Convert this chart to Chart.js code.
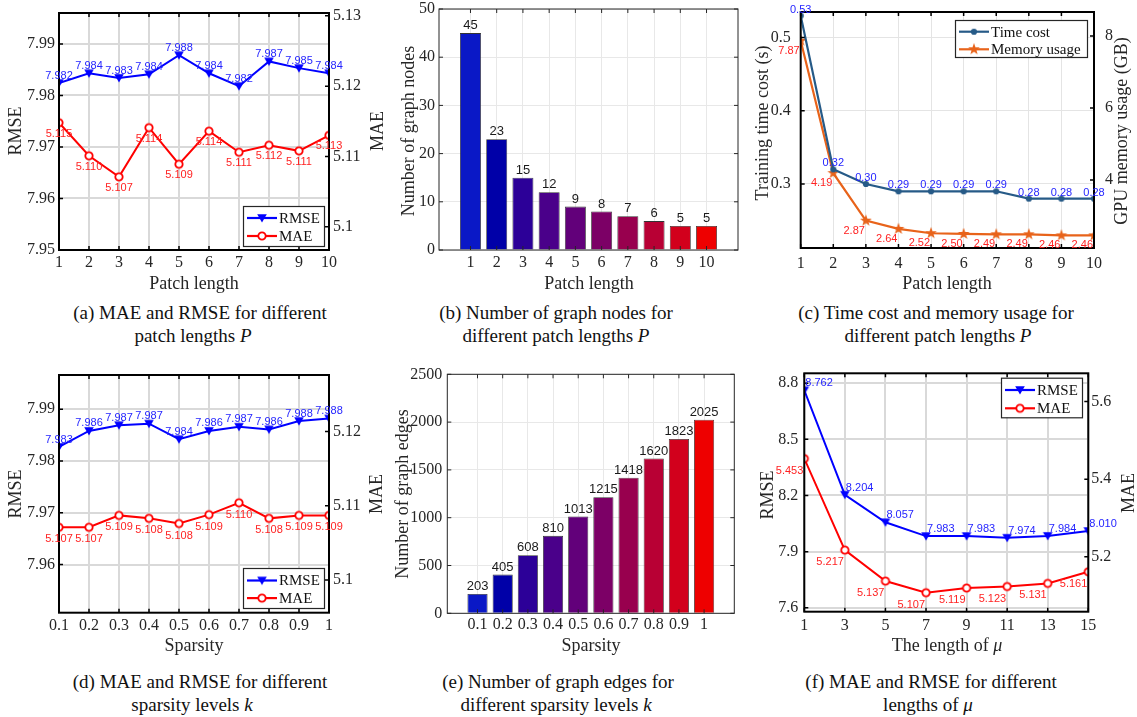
<!DOCTYPE html>
<html>
<head>
<meta charset="utf-8">
<script src="https://cdn.jsdelivr.net/npm/chart.js@4.4.1/dist/chart.umd.min.js"></script>
<style>
  html, body { margin: 0; padding: 0; background: #fff; }
  body { position: relative; width: 1137px; height: 717px; overflow: hidden; font-family: "Liberation Serif", "Times New Roman", serif; }
  canvas { position: absolute; }
  .t { position: absolute; white-space: nowrap; color: #262626; font-size: 18px; line-height: 1; transform: translate(-50%, -50%); z-index: 2; }
  .t.v { transform: translate(-50%, -50%) rotate(-90deg); }
  .cap { position: absolute; white-space: nowrap; color: #111; font-size: 19px; line-height: 1; transform: translate(-50%, -50%); z-index: 2; }
</style>
</head>
<body>
<canvas id="cA" width="380" height="300" style="left:0px;top:0px"></canvas>
<canvas id="cB" width="370" height="300" style="left:380px;top:0px"></canvas>
<canvas id="cC" width="387" height="300" style="left:750px;top:0px"></canvas>
<canvas id="cD" width="380" height="320" style="left:0px;top:350px"></canvas>
<canvas id="cE" width="370" height="320" style="left:380px;top:350px"></canvas>
<canvas id="cF" width="387" height="320" style="left:750px;top:350px"></canvas>

<!-- axis titles -->
<div class="t v" style="left:15px;top:131px">RMSE</div>
<div class="t v" style="left:377px;top:131px">MAE</div>
<div class="t" style="left:194px;top:283px">Patch length</div>

<div class="t v" style="left:408px;top:131px">Number of graph nodes</div>
<div class="t" style="left:589px;top:283px">Patch length</div>

<div class="t v" style="left:762px;top:123px">Training time cost (s)</div>
<div class="t v" style="left:1121px;top:131px">GPU memory usage (GB)</div>
<div class="t" style="left:947px;top:283px">Patch length</div>

<div class="t v" style="left:15px;top:494px">RMSE</div>
<div class="t v" style="left:376px;top:494px">MAE</div>
<div class="t" style="left:194px;top:645px">Sparsity</div>

<div class="t v" style="left:402px;top:494px">Number of graph edges</div>
<div class="t" style="left:591px;top:645px">Sparsity</div>

<div class="t v" style="left:767px;top:495px">RMSE</div>
<div class="t v" style="left:1128px;top:493px">MAE</div>
<div class="t" style="left:947px;top:645px">The length of <i>μ</i></div>

<!-- sub-captions -->
<div class="cap" style="left:200px;top:312px">(a) MAE and RMSE for different</div>
<div class="cap" style="left:193px;top:335px">patch lengths <i>P</i></div>
<div class="cap" style="left:556px;top:312px">(b) Number of graph nodes for</div>
<div class="cap" style="left:556px;top:335px">different patch lengths <i>P</i></div>
<div class="cap" style="left:936px;top:312px">(c) Time cost and memory usage for</div>
<div class="cap" style="left:938px;top:335px">different patch lengths <i>P</i></div>
<div class="cap" style="left:200px;top:681px">(d) MAE and RMSE for different</div>
<div class="cap" style="left:192px;top:704px">sparsity levels <i>k</i></div>
<div class="cap" style="left:558px;top:681px">(e) Number of graph edges for</div>
<div class="cap" style="left:556px;top:704px">different sparsity levels <i>k</i></div>
<div class="cap" style="left:931px;top:681px">(f) MAE and RMSE for different</div>
<div class="cap" style="left:928px;top:704px">lengths of <i>μ</i></div>

<script>
// ---- data ----
const patchLengths = [1, 2, 3, 4, 5, 6, 7, 8, 9, 10];
const rmsePatch = [7.9824, 7.9843, 7.9834, 7.9841, 7.9878, 7.9843, 7.9818, 7.9866, 7.9853, 7.9843];
const maePatch = [5.1148, 5.1101, 5.1071, 5.1141, 5.1089, 5.1136, 5.1106, 5.1116, 5.1108, 5.1130];
const graphNodes = [45, 23, 15, 12, 9, 8, 7, 6, 5, 5];
const timeCost = [0.53, 0.32, 0.30, 0.29, 0.29, 0.29, 0.29, 0.28, 0.28, 0.28];
const memoryUsage = [7.87, 4.19, 2.87, 2.64, 2.52, 2.50, 2.49, 2.49, 2.46, 2.46];

const sparsity = [0.1, 0.2, 0.3, 0.4, 0.5, 0.6, 0.7, 0.8, 0.9, 1];
const rmseSparsity = [7.9827, 7.9858, 7.9869, 7.9872, 7.9842, 7.9858, 7.9866, 7.9861, 7.9877, 7.9882];
const maeSparsity = [5.1071, 5.1071, 5.1087, 5.1083, 5.1076, 5.1088, 5.1104, 5.1083, 5.1087, 5.1087];
const graphEdges = [203, 405, 608, 810, 1013, 1215, 1418, 1620, 1823, 2025];

const muLengths = [1, 3, 5, 7, 9, 11, 13, 15];
const rmseMu = [8.762, 8.204, 8.057, 7.983, 7.983, 7.974, 7.984, 8.010];
const maeMu = [5.453, 5.217, 5.137, 5.107, 5.119, 5.123, 5.131, 5.161];

// ---- tick values ----
const rmseTicksPatch = [7.95, 7.96, 7.97, 7.98, 7.99];
const maeTicksPatch = [5.1, 5.11, 5.12, 5.13];
const nodeTicks = [0, 10, 20, 30, 40, 50];
const timeTicks = [0.3, 0.4, 0.5];
const memoryTicks = [4, 6, 8];
const rmseTicksSparsity = [7.96, 7.97, 7.98, 7.99];
const maeTicksSparsity = [5.1, 5.11, 5.12];
const edgeTicks = [0, 500, 1000, 1500, 2000, 2500];
const rmseTicksMu = [7.6, 7.9, 8.2, 8.5, 8.8];
const maeTicksMu = [5.2, 5.4, 5.6];

// ---- styles ----
const SERIF = '"Liberation Serif", "Times New Roman", serif';
const SANS = '"Liberation Sans", Arial, sans-serif';
const TICK_COLOR = '#262626';
const BLUE = '#0000ff', RED = '#ff0000';
const BLUE_TXT = '#2424ff', RED_TXT = '#ff2222';
const STEEL = '#265a87', ORANGE = '#e8631a';
const barColors = ['#0a18c6', '#0000a8', '#2c0098', '#4a008a', '#62007a',
                   '#7c0066', '#98004e', '#b80034', '#d2001c', '#ee0000'];

// marker glyphs, drawn once and reused for series and legends
function makeMarker(kind, color) {
  const c = document.createElement('canvas');
  c.width = 16; c.height = 16;
  const g = c.getContext('2d');
  g.translate(8, 8);
  g.fillStyle = color; g.strokeStyle = color;
  g.beginPath();
  if (kind === 'triDown') {
    g.moveTo(-4.8, -3.8); g.lineTo(4.8, -3.8); g.lineTo(0, 4.4); g.closePath(); g.fill();
  } else if (kind === 'ring') {
    g.arc(0, 0, 3.7, 0, Math.PI * 2);
    g.fillStyle = '#fff'; g.fill();
    g.lineWidth = 1.8; g.stroke();
  } else if (kind === 'dot') {
    g.arc(0, 0, 3.1, 0, Math.PI * 2); g.fill();
  } else if (kind === 'star') {
    for (let i = 0; i < 10; i++) {
      const r = i % 2 ? 2.5 : 6.2;
      const a = -Math.PI / 2 + i * Math.PI / 5;
      g.lineTo(r * Math.cos(a), r * Math.sin(a));
    }
    g.closePath(); g.fill();
  }
  return c;
}
const MARKERS = {
  triBlue: makeMarker('triDown', BLUE),
  ringRed: makeMarker('ring', RED),
  dotSteel: makeMarker('dot', STEEL),
  starOrange: makeMarker('star', ORANGE)
};

// box around the plot area with inward tick marks
const framePlugin = {
  id: 'frame',
  afterDatasetsDraw(chart, args, o) {
    const { ctx, chartArea: a, scales } = chart;
    const L = o.tickLen;
    ctx.save();
    ctx.strokeStyle = o.color;
    ctx.lineWidth = o.tickWidth;
    ctx.beginPath();
    scales.x.ticks.forEach(t => {
      const px = scales.x.getPixelForValue(t.value);
      ctx.moveTo(px, a.bottom); ctx.lineTo(px, a.bottom - L);
      ctx.moveTo(px, a.top); ctx.lineTo(px, a.top + L);
    });
    scales.y.ticks.forEach(t => {
      const py = scales.y.getPixelForValue(t.value);
      ctx.moveTo(a.left, py); ctx.lineTo(a.left + L, py);
      if (!scales.y2) { ctx.moveTo(a.right, py); ctx.lineTo(a.right - L, py); }
    });
    if (scales.y2) {
      scales.y2.ticks.forEach(t => {
        const py = scales.y2.getPixelForValue(t.value);
        ctx.moveTo(a.right, py); ctx.lineTo(a.right - L, py);
      });
    }
    ctx.stroke();
    ctx.lineWidth = o.width;
    ctx.strokeRect(a.left, a.top, a.right - a.left, a.bottom - a.top);
    ctx.restore();
  }
};

// value annotations next to each point / on top of each bar
const valueLabelPlugin = {
  id: 'valueLabels',
  afterDatasetsDraw(chart) {
    const ctx = chart.ctx;
    chart.data.datasets.forEach((ds, i) => {
      const st = ds.valueLabel;
      if (!st) return;
      const meta = chart.getDatasetMeta(i);
      ctx.save();
      ctx.font = (st.size || 11) + 'px ' + SANS;
      ctx.fillStyle = st.color;
      ctx.textAlign = st.align || 'center';
      ctx.textBaseline = st.baseline || 'middle';
      meta.data.forEach((el, j) => {
        const raw = ds.data[j];
        const v = typeof raw === 'object' ? raw.y : raw;
        ctx.fillText(v.toFixed(st.digits), el.x + (st.dx || 0), el.y + (st.dy || 0));
      });
      ctx.restore();
    });
  }
};

// boxed legend placed inside the plot
const boxLegendPlugin = {
  id: 'boxLegend',
  afterDraw(chart, args, o) {
    if (!o || !o.items || !o.items.length) return;
    const ctx = chart.ctx;
    ctx.save();
    ctx.fillStyle = '#fff';
    ctx.fillRect(o.x, o.y, o.w, o.h);
    ctx.strokeStyle = '#262626';
    ctx.lineWidth = 1.2;
    ctx.strokeRect(o.x + 0.5, o.y + 0.5, o.w, o.h);
    o.items.forEach((it, k) => {
      const ry = o.y + o.first + k * o.step;
      ctx.strokeStyle = it.color;
      ctx.lineWidth = 2.2;
      ctx.beginPath();
      ctx.moveTo(o.x + 4, ry); ctx.lineTo(o.x + 34, ry);
      ctx.stroke();
      ctx.drawImage(MARKERS[it.marker], o.x + 19 - 8, ry - 8);
      ctx.fillStyle = '#111';
      ctx.font = '15px ' + SERIF;
      ctx.textAlign = 'left';
      ctx.textBaseline = 'middle';
      ctx.fillText(it.text, o.x + 36, ry + 1);
    });
    ctx.restore();
  }
};

const PLUGINS = [framePlugin, valueLabelPlugin, boxLegendPlugin];

function axis(c, pos) {
  return {
    type: 'linear',
    position: pos,
    min: c.min,
    max: c.max,
    offset: false,
    afterBuildTicks: s => { s.ticks = c.ticks.map(v => ({ value: v })); },
    afterFit: s => {
      if (pos === 'bottom') s.height = c.size; else s.width = c.size;
      s.paddingTop = 0; s.paddingBottom = 0; s.paddingLeft = 0; s.paddingRight = 0;
    },
    ticks: {
      autoSkip: false, maxRotation: 0, minRotation: 0,
      padding: c.pad,
      font: { family: SERIF, size: 16 },
      color: TICK_COLOR,
      callback: c.label || (v => String(v))
    },
    grid: c.grid
      ? { color: c.grid.color, lineWidth: c.grid.width, drawTicks: false, offset: false }
      : { display: false, drawTicks: false },
    border: { display: false }
  };
}

function options(c) {
  const scales = { x: axis(c.x, 'bottom'), y: axis(c.y, 'left') };
  if (c.y2) scales.y2 = axis(c.y2, 'right');
  return {
    responsive: false,
    animation: false,
    devicePixelRatio: 1,
    layout: { padding: c.pad },
    scales,
    plugins: {
      legend: { display: false },
      tooltip: { enabled: false },
      frame: c.frame,
      boxLegend: c.legend || {}
    }
  };
}

function xy(xs, ys) { return xs.map((x, i) => ({ x: x, y: ys[i] })); }

function lineSet(xs, ys, axisId, color, marker, width, label) {
  return {
    data: xy(xs, ys), yAxisID: axisId,
    borderColor: color, backgroundColor: color, borderWidth: width,
    tension: 0, fill: false,
    pointStyle: MARKERS[marker], pointRadius: 5, pointHoverRadius: 5,
    valueLabel: label
  };
}

function barSet(xs, ys) {
  return {
    data: xy(xs, ys),
    backgroundColor: barColors,
    borderColor: '#333333', borderWidth: 0.8,
    categoryPercentage: 1, barPercentage: 0.8,
    valueLabel: { color: '#1a1a1a', dy: -1, baseline: 'bottom', digits: 0, size: 13 }
  };
}

const gridThick = { color: '#d9d9d9', width: 2 };
const gridThin = { color: '#e4e4e4', width: 1 };
const gridBar = { color: '#e8e8e8', width: 1 };
const frameThick = { width: 2, color: '#000', tickLen: 4, tickWidth: 1.5 };
const frameBar = { width: 1, color: '#262626', tickLen: 4, tickWidth: 1 };
const barSlots = patchLengths; // bar slot positions 1..10

// (a) RMSE / MAE vs patch length
new Chart(document.getElementById('cA'), {
  type: 'line',
  data: { datasets: [
    lineSet(patchLengths, rmsePatch, 'y', BLUE, 'triBlue', 2, { color: BLUE_TXT, dy: -7, digits: 3 }),
    lineSet(patchLengths, maePatch, 'y2', RED, 'ringRed', 2, { color: RED_TXT, dy: 11, digits: 3 })
  ] },
  options: options({
    pad: { top: 13, left: 0, right: 0, bottom: 0 },
    x: { min: 1, max: 10, ticks: patchLengths, size: 50, pad: 3.4, grid: gridThick },
    y: { min: 7.95, max: 7.996, ticks: rmseTicksPatch, size: 59, pad: 4, grid: gridThick },
    y2: { min: 5.0967, max: 5.1304, ticks: maeTicksPatch, size: 51, pad: 4 },
    frame: frameThick,
    legend: { x: 243, y: 206, w: 81, h: 40, first: 12, step: 18, items: [
      { text: 'RMSE', color: BLUE, marker: 'triBlue' },
      { text: 'MAE', color: RED, marker: 'ringRed' }
    ] }
  }),
  plugins: PLUGINS
});

// (b) number of graph nodes vs patch length
new Chart(document.getElementById('cB'), {
  type: 'bar',
  data: { datasets: [barSet(barSlots, graphNodes)] },
  options: options({
    pad: { top: 9, left: 0, right: 12, bottom: 0 },
    x: { min: -0.2, max: 11.2, ticks: barSlots, size: 50, pad: 3.4, grid: gridBar,
         label: v => String(patchLengths[v - 1]) },
    y: { min: 0, max: 50, ticks: nodeTicks, size: 59, pad: 4, grid: gridBar },
    frame: frameBar
  }),
  plugins: PLUGINS
});

// (c) training time and GPU memory vs patch length
new Chart(document.getElementById('cC'), {
  type: 'line',
  data: { datasets: [
    lineSet(patchLengths, timeCost, 'y', STEEL, 'dotSteel', 2.2, { color: BLUE_TXT, dy: -6, digits: 2 }),
    lineSet(patchLengths, memoryUsage, 'y2', ORANGE, 'starOrange', 2.2, { color: RED_TXT, dx: -1, dy: 10, align: 'right', digits: 2 })
  ] },
  options: options({
    pad: { top: 12, left: 0, right: 0, bottom: 0 },
    x: { min: 1, max: 10, ticks: patchLengths, size: 52, pad: 5.7, grid: gridThin },
    y: { min: 0.2125, max: 0.535, ticks: timeTicks, size: 50.7, pad: 10, grid: gridThin },
    y2: { min: 2.11, max: 8.67, ticks: memoryTicks, size: 43, pad: 11 },
    frame: frameThick,
    legend: { x: 205, y: 20, w: 132, h: 37, first: 11.7, step: 17.6, items: [
      { text: 'Time cost', color: STEEL, marker: 'dotSteel' },
      { text: 'Memory usage', color: ORANGE, marker: 'starOrange' }
    ] }
  }),
  plugins: PLUGINS
});

// (d) RMSE / MAE vs sparsity
new Chart(document.getElementById('cD'), {
  type: 'line',
  data: { datasets: [
    lineSet(sparsity, rmseSparsity, 'y', BLUE, 'triBlue', 2, { color: BLUE_TXT, dy: -7.5, digits: 3 }),
    lineSet(sparsity, maeSparsity, 'y2', RED, 'ringRed', 2, { color: RED_TXT, dy: 12, digits: 3 })
  ] },
  options: options({
    pad: { top: 25, left: 0, right: 0, bottom: 0 },
    x: { min: 0.1, max: 1, ticks: sparsity, size: 57.3, pad: 3.7, grid: gridThick },
    y: { min: 7.9507, max: 7.9966, ticks: rmseTicksSparsity, size: 59, pad: 4, grid: gridThick },
    y2: { min: 5.0956, max: 5.1276, ticks: maeTicksSparsity, size: 51, pad: 4 },
    frame: frameThick,
    legend: { x: 243, y: 218, w: 81, h: 40, first: 12.5, step: 17.6, items: [
      { text: 'RMSE', color: BLUE, marker: 'triBlue' },
      { text: 'MAE', color: RED, marker: 'ringRed' }
    ] }
  }),
  plugins: PLUGINS
});

// (e) number of graph edges vs sparsity
new Chart(document.getElementById('cE'), {
  type: 'bar',
  data: { datasets: [barSet(barSlots, graphEdges)] },
  options: options({
    pad: { top: 24.3, left: 0, right: 15.7, bottom: 0 },
    x: { min: -0.2, max: 11.2, ticks: barSlots, size: 56.7, pad: 2.1, grid: gridBar,
         label: v => String(sparsity[v - 1]) },
    y: { min: 0, max: 2500, ticks: edgeTicks, size: 67.3, pad: 5, grid: gridBar },
    frame: frameBar
  }),
  plugins: PLUGINS
});

// (f) RMSE / MAE vs length of mu
new Chart(document.getElementById('cF'), {
  type: 'line',
  data: { datasets: [
    lineSet(muLengths, rmseMu, 'y', BLUE, 'triBlue', 2, { color: BLUE_TXT, dx: 1, dy: -7, align: 'left', digits: 3 }),
    lineSet(muLengths, maeMu, 'y2', RED, 'ringRed', 2, { color: RED_TXT, dx: -1, dy: 12, align: 'right', digits: 3 })
  ] },
  options: options({
    pad: { top: 23.3, left: 0, right: 0, bottom: 0 },
    x: { min: 1, max: 15, ticks: muLengths, size: 58.3, pad: 4.7, grid: gridThick },
    y: { min: 7.579, max: 8.853, ticks: rmseTicksMu, size: 54.3, pad: 6, grid: gridThick },
    y2: { min: 5.058, max: 5.673, ticks: maeTicksMu, size: 48.7, pad: 3 },
    frame: frameThick,
    legend: { x: 251, y: 27.7, w: 81, h: 39.6, first: 12.3, step: 18.3, items: [
      { text: 'RMSE', color: BLUE, marker: 'triBlue' },
      { text: 'MAE', color: RED, marker: 'ringRed' }
    ] }
  }),
  plugins: PLUGINS
});
</script>
</body>
</html>
